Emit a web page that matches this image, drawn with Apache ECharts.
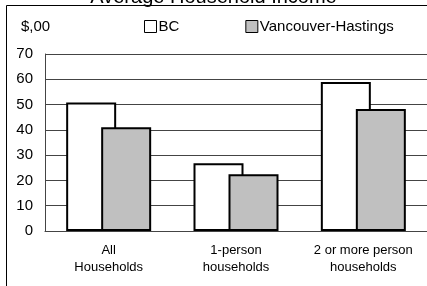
<!DOCTYPE html>
<html>
<head>
<meta charset="utf-8">
<script src="https://cdn.jsdelivr.net/npm/echarts@6/dist/echarts.min.js"></script>
<style>
  html, body { margin: 0; padding: 0; background: #fff; }
  #chart { width: 427px; height: 286px; }
</style>
</head>
<body>
<div id="chart"></div>
<script>
var categories = ['All\nHouseholds', '1-person\nhouseholds', '2 or more person\nhouseholds'];
var bcValues = [50.8, 26.8, 58.9];
var vhValues = [41.0, 22.4, 48.2];
var yTicks = [0, 10, 20, 30, 40, 50, 60, 70];

var myChart = echarts.init(document.getElementById('chart'));
var font = 'Liberation Sans, Arial, sans-serif';
var option = {
    backgroundColor: '#fff',
    animation: false,
    title: {
        text: 'Average Household Income',
        left: 'center',
        top: -18,
        textStyle: { fontFamily: font, fontSize: 20, fontWeight: 'normal', color: '#000' }
    },
    graphic: [
        {
            type: 'rect',
            shape: { x: 6.5, y: 5.5, width: 430, height: 290 },
            style: { fill: 'none', stroke: '#000', lineWidth: 1 },
            silent: true
        },
        {
            type: 'text',
            left: 21,
            top: 19,
            style: { text: '$,00', fontFamily: font, fontSize: 15, fill: '#000' }
        }
    ],
    legend: {
        top: 14,
        left: 139,
        itemGap: 66,
        itemWidth: 12,
        itemHeight: 12,
        icon: 'rect',
        itemStyle: { borderColor: '#000', borderWidth: 1 },
        textStyle: { fontFamily: font, fontSize: 15, color: '#000', padding: [0, 0, 0, -3] },
        data: ['BC', 'Vancouver-Hastings']
    },
    grid: { left: 45, right: -7, top: 54, bottom: 55 },
    xAxis: {
        type: 'category',
        data: categories,
        axisLine: { lineStyle: { color: '#444', width: 1 } },
        axisTick: { show: false },
        axisLabel: { interval: 0, fontFamily: font, fontSize: 13, color: '#000', lineHeight: 17, margin: 11 }
    },
    yAxis: {
        type: 'value',
        min: yTicks[0],
        max: yTicks[yTicks.length - 1],
        interval: 10,
        axisLine: { show: true, lineStyle: { color: '#444', width: 1 } },
        axisTick: { show: false },
        axisLabel: { fontFamily: font, fontSize: 15, color: '#000', margin: 12 },
        splitLine: { lineStyle: { color: '#444', width: 1 } }
    },
    series: [
        {
            name: 'BC',
            type: 'bar',
            data: bcValues,
            barWidth: 50,
            barGap: '-30%',
            itemStyle: { color: '#fff', borderColor: '#000', borderWidth: 2 }
        },
        {
            name: 'Vancouver-Hastings',
            type: 'bar',
            data: vhValues,
            barWidth: 50,
            itemStyle: { color: '#c0c0c0', borderColor: '#000', borderWidth: 2 }
        }
    ]
};
myChart.setOption(option);
</script>
</body>
</html>
